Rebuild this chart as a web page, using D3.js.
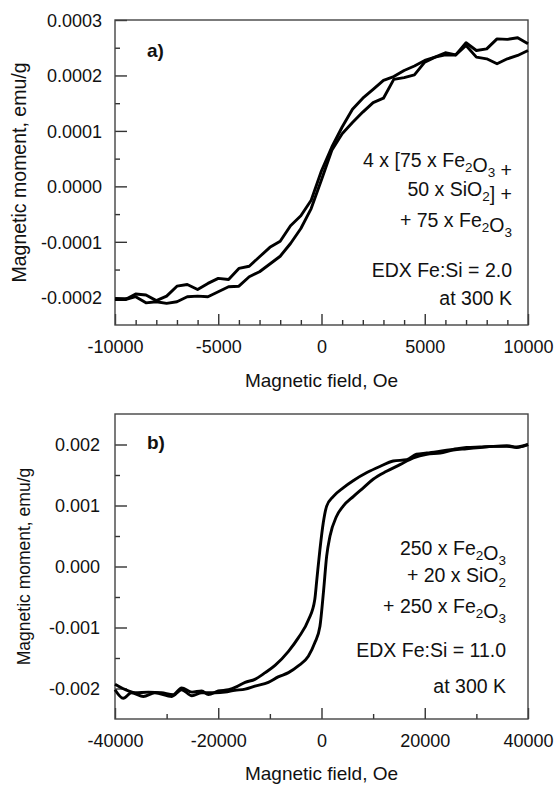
<!DOCTYPE html>
<html>
<head>
<meta charset="utf-8">
<script src="https://cdnjs.cloudflare.com/ajax/libs/d3/7.8.5/d3.min.js"></script>
<style>
  body { margin: 0; background: #fff; }
  svg text { font-family: 'Liberation Sans', Arial, sans-serif; fill: #111; }
</style>
</head>
<body>
<div class="canvas"></div>
<script>
// values: field in Oe, moment in emu/g

// panel a) 4 x [75 x Fe2O3 + 50 x SiO2] + 75 x Fe2O3
const fieldA = [-10000, -9500, -9000, -8500, -8000, -7500, -7000, -6500, -6000, -5500,
  -5000, -4500, -4000, -3500, -3000, -2500, -2000, -1500, -1000, -500, 0,
  500, 1000, 1500, 2000, 2500, 3000, 3500, 4000, 4500, 5000,
  5500, 6000, 6500, 7000, 7500, 8000, 8500, 9000, 9500, 10000];
// branch coming down from +10 kOe
const momentDownA = [-2.02e-4, -2.04e-4, -1.94e-4, -1.96e-4, -2.06e-4, -1.98e-4, -1.80e-4, -1.77e-4, -1.86e-4, -1.75e-4,
  -1.66e-4, -1.68e-4, -1.48e-4, -1.44e-4, -1.27e-4, -1.10e-4, -0.99e-4, -0.71e-4, -0.53e-4, -0.25e-4, 0.28e-4,
  0.71e-4, 1.07e-4, 1.39e-4, 1.59e-4, 1.75e-4, 1.91e-4, 1.98e-4, 2.09e-4, 2.17e-4, 2.27e-4,
  2.33e-4, 2.41e-4, 2.37e-4, 2.59e-4, 2.45e-4, 2.48e-4, 2.66e-4, 2.65e-4, 2.68e-4, 2.57e-4];
// branch going up from -10 kOe
const momentUpA = [-2.04e-4, -2.04e-4, -1.99e-4, -2.10e-4, -2.08e-4, -2.11e-4, -2.08e-4, -1.99e-4, -1.98e-4, -1.99e-4,
  -1.90e-4, -1.81e-4, -1.80e-4, -1.63e-4, -1.54e-4, -1.40e-4, -1.26e-4, -1.03e-4, -0.76e-4, -0.40e-4, 0.12e-4,
  0.65e-4, 0.95e-4, 1.15e-4, 1.34e-4, 1.51e-4, 1.59e-4, 1.93e-4, 1.96e-4, 2.01e-4, 2.24e-4,
  2.33e-4, 2.37e-4, 2.37e-4, 2.54e-4, 2.33e-4, 2.30e-4, 2.21e-4, 2.30e-4, 2.36e-4, 2.45e-4];

// panel b) 250 x Fe2O3 + 20 x SiO2 + 250 x Fe2O3
const fieldDownB = [-40000, -37400, -36100, -33500, -31000, -28700, -27100, -25100, -23200, -21900,
  -20000, -18000, -16400, -14800, -12900, -10900, -9000, -6400, -4500, -2500,
  -1300, -900, -300, 350, 1000, 2300, 4200, 6200, 8800, 11300,
  13900, 16500, 18400, 20400, 23000, 25500, 28100, 30700, 33300, 35900, 37800, 40000];
const momentDownB = [-1.93e-3, -2.04e-3, -2.07e-3, -2.06e-3, -2.07e-3, -2.10e-3, -1.99e-3, -2.06e-3, -2.04e-3, -2.10e-3,
  -2.04e-3, -2.02e-3, -1.97e-3, -1.90e-3, -1.85e-3, -1.74e-3, -1.62e-3, -1.39e-3, -1.17e-3, -0.87e-3,
  -0.54e-3, -0.21e-3, 0.28e-3, 0.72e-3, 0.99e-3, 1.15e-3, 1.29e-3, 1.41e-3, 1.54e-3, 1.64e-3,
  1.73e-3, 1.75e-3, 1.84e-3, 1.86e-3, 1.89e-3, 1.92e-3, 1.95e-3, 1.96e-3, 1.97e-3, 1.97e-3, 1.95e-3, 2.00e-3];
const fieldUpB = [-40000, -38400, -36800, -34500, -32300, -29000, -27100, -25100, -23200, -20600,
  -18700, -16800, -14800, -12900, -10300, -8400, -6400, -4500, -2550, -1300,
  -300, 400, 1000, 1650, 2900, 4200, 6200, 8100, 10000, 12600,
  15200, 17800, 20400, 23000, 25500, 28100, 30700, 33300, 35900, 37800, 40000];
const momentUpB = [-2.02e-3, -2.16e-3, -2.07e-3, -2.13e-3, -2.07e-3, -2.13e-3, -2.02e-3, -2.12e-3, -2.07e-3, -2.07e-3,
  -2.06e-3, -2.03e-3, -2.01e-3, -1.96e-3, -1.90e-3, -1.81e-3, -1.74e-3, -1.63e-3, -1.47e-3, -1.25e-3,
  -0.98e-3, -0.40e-3, 0.17e-3, 0.50e-3, 0.82e-3, 0.99e-3, 1.15e-3, 1.29e-3, 1.43e-3, 1.56e-3,
  1.67e-3, 1.78e-3, 1.84e-3, 1.86e-3, 1.91e-3, 1.93e-3, 1.95e-3, 1.97e-3, 1.98e-3, 1.96e-3, 2.00e-3];

// tick values
const xTicksA = [-10000, -5000, 0, 5000, 10000];
const yTicksA = [-0.0002, -0.0001, 0, 0.0001, 0.0002, 0.0003];
const xTicksB = [-40000, -20000, 0, 20000, 40000];
const yTicksB = [-0.002, -0.001, 0, 0.001, 0.002];

// annotation lines, "_" marks a subscript digit
const notesA = ['4 x [75 x Fe_2O_3 +', '50 x SiO_2] +', '+ 75 x Fe_2O_3', 'EDX Fe:Si = 2.0', 'at 300 K'];
const notesB = ['250 x Fe_2O_3', '+ 20 x SiO_2', '+ 250 x Fe_2O_3', 'EDX Fe:Si = 11.0', 'at 300 K'];

const xTitle = 'Magnetic field, Oe';
const yTitle = 'Magnetic moment, emu/g';

const svg = d3.select('.canvas')
  .append('svg')
  .attr('width', 558)
  .attr('height', 785);

// puts text with subscripts into a text element
const writeNote = (sel, str) => {
  str.split(/(_\d)/).filter(s => s.length).forEach(s => {
    if (s[0] === '_') {
      sel.append('tspan').attr('font-size', 13.5).attr('dy', 5).text(s[1]);
      sel.append('tspan').attr('dy', -5).text('');
    } else {
      sel.append('tspan').text(s);
    }
  });
};

const drawPanel = (p) => {
  const x = d3.scaleLinear().domain(p.xDomain).range([p.left, p.right]);
  const y = d3.scaleLinear().domain(p.yDomain).range([p.bottom, p.top]);
  const g = svg.append('g');

  // minor + major ticks pointing inside
  const xMinor = g.append('g').attr('transform', `translate(0,${p.bottom})`)
    .call(d3.axisBottom(x).tickValues(p.xMinor).tickSize(-5).tickFormat(''));
  const yMinor = g.append('g').attr('transform', `translate(${p.left},0)`)
    .call(d3.axisLeft(y).tickValues(p.yMinor).tickSize(-5).tickFormat(''));
  const xAxis = g.append('g').attr('transform', `translate(0,${p.bottom})`)
    .call(d3.axisBottom(x).tickValues(p.xTicks).tickSize(-11).tickPadding(15).tickFormat(d => String(d)));
  const yAxis = g.append('g').attr('transform', `translate(${p.left},0)`)
    .call(d3.axisLeft(y).tickValues(p.yTicks).tickSize(-12).tickPadding(p.labelGap).tickFormat(d => d.toFixed(p.digits)));

  [xMinor, yMinor, xAxis, yAxis].forEach(a => {
    a.select('.domain').remove();
    a.selectAll('line').attr('stroke', '#333').attr('stroke-width', 1.4);
  });
  xAxis.selectAll('text').attr('font-size', 18).attr('font-family', null).attr('fill', '#111')
    .attr('dy', null).attr('y', 28);
  yAxis.selectAll('text').attr('font-size', 18).attr('font-family', null).attr('fill', '#111')
    .attr('dy', '0.36em');

  // frame
  g.append('rect')
    .attr('x', p.left).attr('y', p.top)
    .attr('width', p.right - p.left).attr('height', p.bottom - p.top)
    .attr('fill', 'none').attr('stroke', '#444').attr('stroke-width', 1.4);

  // loop branches
  const line = d3.line()
    .x(d => x(d[0]))
    .y(d => y(d[1]))
    .curve(p.curve);
  p.branches.forEach(b => {
    g.append('path')
      .datum(d3.zip(b[0], b[1]))
      .attr('fill', 'none')
      .attr('stroke', '#000')
      .attr('stroke-width', 2.9)
      .attr('stroke-linejoin', 'round')
      .attr('d', line);
  });

  // titles
  g.append('text')
    .attr('x', (p.left + p.right) / 2).attr('y', p.xTitleY)
    .attr('text-anchor', 'middle').attr('font-size', 19)
    .text(xTitle);
  g.append('text')
    .attr('transform', `translate(${p.yTitleX},${(p.top + p.bottom) / 2}) rotate(-90)`)
    .attr('text-anchor', 'middle').attr('font-size', p.yTitleSize)
    .text(yTitle);

  // panel letter
  g.append('text')
    .attr('x', 147).attr('y', p.top + p.letterDy)
    .attr('font-size', 19).attr('font-weight', 'bold')
    .text(p.letter);

  // notes
  p.notes.forEach((n, i) => {
    const t = g.append('text')
      .attr('x', p.noteX).attr('y', p.noteY[i])
      .attr('text-anchor', 'end').attr('font-size', 19.5);
    writeNote(t, n);
  });
};

drawPanel({
  left: 115, right: 528, top: 20, bottom: 325,
  xDomain: [-10000, 10000], yDomain: [-0.00025, 0.0003],
  xTicks: xTicksA, yTicks: yTicksA,
  xMinor: d3.range(-9000, 10000, 1000).filter(v => v % 5000 !== 0),
  yMinor: [-0.00015, -0.00005, 0.00005, 0.00015, 0.00025],
  digits: 4, labelGap: 13,
  branches: [[fieldA, momentDownA], [fieldA, momentUpA]],
  curve: d3.curveLinear,
  xTitleY: 387, yTitleX: 26, yTitleSize: 19.5,
  letter: 'a)', letterDy: 37,
  notes: notesA, noteX: 512, noteY: [167, 196, 227, 277, 305]
});

drawPanel({
  left: 115, right: 528, top: 414, bottom: 719,
  xDomain: [-40000, 40000], yDomain: [-0.0025, 0.0025],
  xTicks: xTicksB, yTicks: yTicksB,
  xMinor: [-30000, -10000, 10000, 30000],
  yMinor: [-0.0015, -0.0005, 0.0005, 0.0015],
  digits: 3, labelGap: 15,
  branches: [[fieldDownB, momentDownB], [fieldUpB, momentUpB]],
  curve: d3.curveMonotoneX,
  xTitleY: 780, yTitleX: 30, yTitleSize: 17.5,
  letter: 'b)', letterDy: 35,
  notes: notesB, noteX: 506, noteY: [555, 582, 613, 657, 693]
});
</script>
</body>
</html>
